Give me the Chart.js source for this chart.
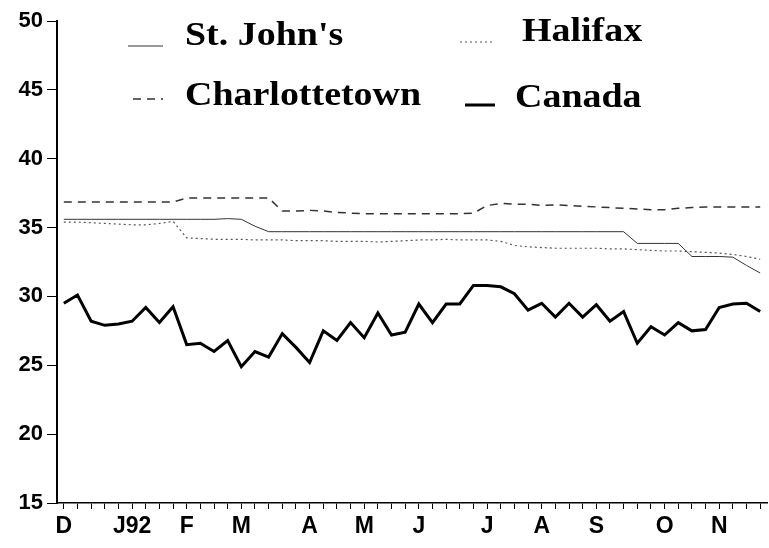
<!DOCTYPE html>
<html><head><meta charset="utf-8">
<script src="https://cdn.jsdelivr.net/npm/chart.js@4.4.1/dist/chart.umd.min.js"></script>
<style>html,body{margin:0;padding:0;background:#fff;}#wrap{width:769px;height:548px;}</style>
</head><body><div id="wrap"><canvas id="c" width="769" height="548"></canvas></div>
<script>
const weekLabels = ['D','','','','','J92','','','','F','','','','M','','','','','A','','','','M','','','','J','','','','','J','','','','A','','','','S','','','','','O','','','','N','','',''];
const yTicks = [15,20,25,30,35,40,45,50];
const stJohns = [35.6,35.6,35.6,35.6,35.6,35.6,35.6,35.6,35.6,35.6,35.6,35.6,35.65,35.6,35.1,34.7,34.7,34.7,34.7,34.7,34.7,34.7,34.7,34.7,34.7,34.7,34.7,34.7,34.7,34.7,34.7,34.7,34.7,34.7,34.7,34.7,34.7,34.7,34.7,34.7,34.7,34.7,33.85,33.85,33.85,33.85,32.9,32.9,32.9,32.85,32.25,31.7];
const halifax = [35.4,35.4,35.35,35.3,35.25,35.2,35.2,35.3,35.45,34.25,34.2,34.15,34.15,34.15,34.1,34.1,34.1,34.05,34.05,34.05,34.0,34.0,34.0,33.95,34.0,34.05,34.1,34.1,34.15,34.1,34.1,34.1,34.0,33.7,33.6,33.55,33.5,33.5,33.5,33.5,33.45,33.45,33.4,33.35,33.3,33.3,33.25,33.2,33.15,33.05,32.9,32.7];
const charlottetown = [36.85,36.85,36.85,36.85,36.85,36.85,36.85,36.85,36.85,37.15,37.15,37.15,37.15,37.15,37.15,37.15,36.2,36.2,36.25,36.2,36.1,36.05,36.0,36.0,36.0,36.0,36.0,36.0,36.0,36.0,36.05,36.6,36.75,36.7,36.7,36.6,36.65,36.6,36.55,36.5,36.45,36.4,36.35,36.3,36.3,36.4,36.45,36.5,36.5,36.5,36.5,36.5];
const canada = [29.5,30.1,28.2,27.9,28.0,28.2,29.2,28.1,29.25,26.5,26.6,26.0,26.8,24.9,26.0,25.6,27.3,26.3,25.2,27.5,26.8,28.1,27.0,28.8,27.2,27.4,29.45,28.1,29.45,29.45,30.8,30.8,30.7,30.2,29.0,29.5,28.5,29.5,28.5,29.4,28.2,28.9,26.6,27.8,27.2,28.1,27.5,27.6,29.2,29.45,29.5,28.9];

const legendPlugin = {
  id: 'boxLegend',
  afterDraw(chart, args, opts) {
    const ctx = chart.ctx;
    chart.data.datasets.forEach((ds, i) => {
      const p = opts.items[i];
      ctx.save();
      ctx.strokeStyle = ds.borderColor;
      ctx.lineWidth = ds.borderWidth;
      ctx.setLineDash(ds.borderDash || []);
      ctx.beginPath(); ctx.moveTo(p.lx1, p.ly); ctx.lineTo(p.lx2, p.ly); ctx.stroke();
      ctx.setLineDash([]);
      ctx.fillStyle = '#000';
      ctx.font = opts.font;
      ctx.textBaseline = 'alphabetic';
      ctx.translate(p.tx, p.ty);
      ctx.scale(opts.stretch, 1);
      ctx.fillText(ds.label, 0, 0);
      ctx.restore();
    });
  }
};

new Chart(document.getElementById('c'), {
  type: 'line',
  data: {
    labels: weekLabels,
    datasets: [
      {label: "St. John's", data: stJohns, borderColor: '#333', borderWidth: 1, borderDash: [], pointRadius: 0, tension: 0},
      {label: 'Halifax', data: halifax, borderColor: '#555', borderWidth: 1.2, borderDash: [2,3], pointRadius: 0, tension: 0},
      {label: 'Charlottetown', data: charlottetown, borderColor: '#333', borderWidth: 1.5, borderDash: [8,6], pointRadius: 0, tension: 0},
      {label: 'Canada', data: canada, borderColor: '#000', borderWidth: 3, borderDash: [], pointRadius: 0, tension: 0}
    ]
  },
  options: {
    responsive: false,
    animation: false,
    layout: {padding: {top: 21, right: 2, left: 0, bottom: 0}},
    plugins: {
      legend: {display: false},
      tooltip: {enabled: false},
      boxLegend: {
        font: 'bold 33px "Liberation Serif"',
        stretch: 1.15,
        items: [
          {lx1: 128, lx2: 163, ly: 46, tx: 185, ty: 45},
          {lx1: 460, lx2: 493, ly: 42, tx: 522, ty: 41},
          {lx1: 133, lx2: 163, ly: 99, tx: 185, ty: 105},
          {lx1: 465, lx2: 495, ly: 105, tx: 515, ty: 107}
        ]
      }
    },
    scales: {
      x: {
        type: 'category',
        offset: true,
        border: {display: true, color: '#000', width: 1.5},
        grid: {display: true, drawOnChartArea: false, drawTicks: true, tickLength: 6, color: '#000', offset: false},
        ticks: {autoSkip: false, maxRotation: 0, minRotation: 0, padding: 4, color: '#000', font: {family: '"Liberation Sans", Arial', size: 23, weight: 'bold'}},
        afterFit(scale) { scale.height = 45; }
      },
      y: {
        type: 'linear',
        min: yTicks[0],
        max: yTicks[yTicks.length - 1],
        afterBuildTicks(scale) { scale.ticks = yTicks.map(v => ({value: v})); },
        border: {display: true, color: '#000', width: 2},
        grid: {display: true, drawOnChartArea: false, drawTicks: true, tickLength: 10, color: '#000'},
        ticks: {padding: 4, color: '#000', font: {family: '"Liberation Sans", Arial', size: 22, weight: 'bold'}},
        afterFit(scale) { scale.width = 57; }
      }
    }
  },
  plugins: [legendPlugin]
});
</script>
</body></html>
